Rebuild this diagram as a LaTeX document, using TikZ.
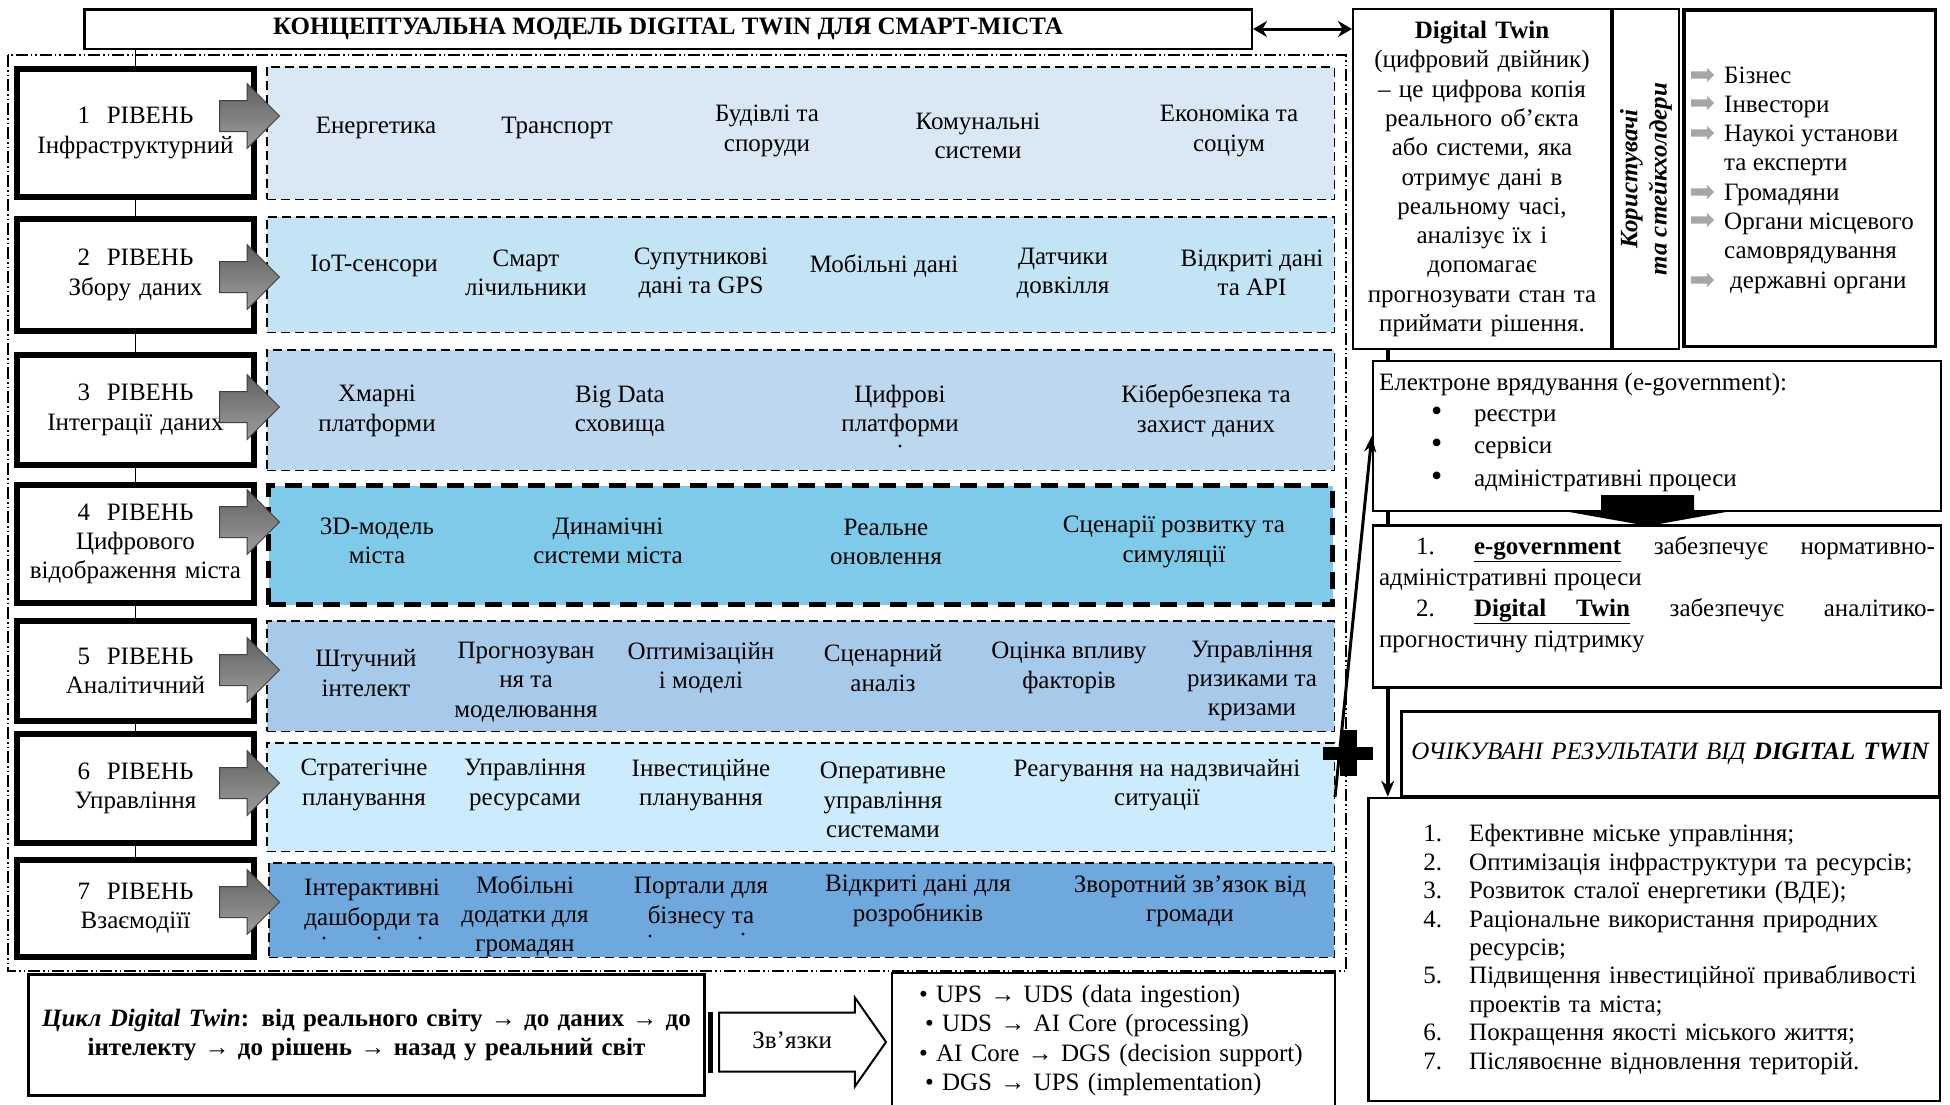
\documentclass[tikz,border=0pt]{standalone}
\usepackage{fontspec}
\setmainfont{Liberation Serif}
\usepackage{xcolor}
\usetikzlibrary{shapes.arrows,arrows.meta,positioning}
\definecolor{infra}{HTML}{DAE8F5}
\definecolor{collect}{HTML}{C3E4F4}
\definecolor{integr}{HTML}{BDD7EE}
\definecolor{mirror}{HTML}{7FC9E9}
\definecolor{analyt}{HTML}{A8CAEA}
\definecolor{manage}{HTML}{CCEBFC}
\definecolor{interact}{HTML}{6FA8DC}
\newcommand{\dtfont}{\fontsize{25}{29.3}\selectfont}
\newcommand{\numitem}[1]{\hspace*{49pt}\makebox[46pt][l]{#1}}
\newcommand{\bulitem}{\hspace*{52pt}\makebox[43pt][l]{\smash{\fontsize{32}{29}\selectfont•}}}

\begin{document}
\begin{tikzpicture}[
  x=1pt, y=-1pt,
  font=\dtfont,
  lvlbox/.style={draw, line width=6pt, fill=white, align=center, text width=229pt, inner xsep=4pt, inner ysep=2pt},
  rowbox/.style={draw, line width=1.5pt, dash pattern=on 9pt off 5pt, minimum width=1067.5pt},
  item/.style={align=center, inner sep=0pt},
  lvlarrow/.style={single arrow, draw=black!75, line width=1pt, top color=black!62, bottom color=black!38, minimum height=60pt, inner xsep=0pt, inner ysep=15pt, single arrow head extend=17pt, anchor=tail},
  stakearrow/.style={single arrow, fill=black!35, minimum height=23pt, inner xsep=0pt, inner ysep=3.5pt, single arrow head extend=3.5pt, anchor=tail},
  plainbox/.style={draw, line width=2.5pt, fill=white},
  lvlline/.style={line width=1pt},
  spine/.style={line width=4pt},
  frame/.style={line width=1.2pt, dash pattern=on 12pt off 3pt on 1.5pt off 3pt on 1.5pt off 3pt},
  linkarrow/.style={single arrow, draw, line width=2pt, fill=white, minimum height=167pt, text height=18pt, text depth=5pt, inner xsep=4pt, inner ysep=17pt, single arrow head extend=15pt, single arrow tip angle=110}
]
\fill[white] (0,0) rectangle (1950,1104);
\useasboundingbox (0,0) rectangle (1950,1104);

% header and frame
\node[plainbox, minimum width=1167.5pt, minimum height=39.5pt, font=\dtfont\bfseries] (title) at (668,29) {КОНЦЕПТУАЛЬНА МОДЕЛЬ DIGITAL TWIN ДЛЯ СМАРТ-МІСТА};
\draw[frame] (8,55) rectangle (1346,971);

% rows
\node[rowbox, fill=infra, minimum height=132.5pt] (c1) at (800.5,133) {};
\node[rowbox, fill=collect, minimum height=115.5pt] (c2) at (800.5,274.5) {};
\node[rowbox, fill=integr, minimum height=120.5pt] (c3) at (800.5,410) {};
\node[rowbox, fill=mirror, line width=5pt, dash pattern=on 17pt off 10pt, minimum width=1064pt, minimum height=119pt] (c4) at (800.5,545) {};
\node[rowbox, fill=analyt, minimum height=110.5pt] (c5) at (800.5,676) {};
\node[rowbox, fill=manage, minimum height=108.5pt] (c6) at (800.5,797) {};
\node[rowbox, fill=interact, minimum width=1065.5pt, minimum height=94.5pt] (c7) at (801.5,910) {};

\node[lvlbox, minimum height=128pt] (l1) at (135.5,133) {1\ \ РІВЕНЬ\\Інфраструктурний};
\node[lvlbox, minimum height=112pt] (l2) at (135.5,275) {2\ \ РІВЕНЬ\\Збору даних};
\node[lvlbox, minimum height=110pt] (l3) at (135.5,410) {3\ \ РІВЕНЬ\\Інтеграції даних};
\node[lvlbox, minimum height=118pt] (l4) at (135.5,544) {4\ \ РІВЕНЬ\\Цифрового\\відображення міста};
\node[lvlbox, minimum height=100pt] (l5) at (135.5,671) {5\ \ РІВЕНЬ\\Аналітичний};
\node[lvlbox, minimum height=109pt] (l6) at (135.5,788.5) {6\ \ РІВЕНЬ\\Управління};
\node[lvlbox, minimum height=97pt] (l7) at (135.5,908.5) {7\ \ РІВЕНЬ\\Взаємодіїї};

\draw[lvlline] (l1.north) -- (l1.north |- title.south);
\draw[lvlline] (l1.south) -- (l2.north);
\draw[lvlline] (l2.south) -- (l3.north);
\draw[lvlline] (l3.south) -- (l4.north);
\draw[lvlline] (l4.south) -- (l5.north);
\draw[lvlline] (l5.south) -- (l6.north);
\draw[lvlline] (l6.south) -- (l7.north);

\node[lvlarrow] (a1) at (219,116) {};
\node[lvlarrow] (a2) at (219,277) {};
\node[lvlarrow] (a3) at (219,407) {};
\node[lvlarrow] (a4) at (219,522) {};
\node[lvlarrow] (a5) at (219,670) {};
\node[lvlarrow] (a6) at (219,783) {};
\node[lvlarrow] (a7) at (219,902) {};

\node[item] (r1a) at (376,128) {Енергетика};
\node[item] (r1b) at (557,128) {Транспорт};
\node[item] (r1c) at (767,131) {Будівлі та\\споруди};
\node[item] (r1d) at (978,136) {Комунальні\\системи};
\node[item] (r1e) at (1229,131) {Економіка та\\соціум};

\node[item] (r2a) at (374,266) {IoT-сенсори};
\node[item] (r2b) at (526,273) {Смарт\\лічильники};
\node[item] (r2c) at (701,273) {Супутникові\\дані та GPS};
\node[item] (r2d) at (884,266) {Мобільні дані};
\node[item] (r2e) at (1063,273) {Датчики\\довкілля};
\node[item] (r2f) at (1252,273) {Відкриті дані\\та API};

\node[item] (r3a) at (377,411) {Хмарні\\платформи};
\node[item] (r3b) at (620,411) {Big Data\\сховища};
\node[item] (r3c) at (900,411) {Цифрові\\платформи};
\node[item] (r3d) at (1206,411) {Кібербезпека та\\захист даних};
\fill (900,446) circle (1.6pt);

\node[item] (r4a) at (377,541) {3D-модель\\міста};
\node[item] (r4b) at (608,541) {Динамічні\\системи міста};
\node[item] (r4c) at (886,542) {Реальне\\оновлення};
\node[item] (r4d) at (1174,542) {Сценарії розвитку та\\симуляції};

\node[item] (r5a) at (366,673) {Штучний\\інтелект};
\node[item] (r5b) at (526,682) {Прогнозуван\\ня та\\моделювання};
\node[item] (r5c) at (701,668) {Оптимізаційн\\і моделі};
\node[item] (r5d) at (883,668) {Сценарний\\аналіз};
\node[item] (r5e) at (1069,668) {Оцінка впливу\\факторів};
\node[item] (r5f) at (1252,681) {Управління\\ризиками та\\кризами};

\node[item] (r6a) at (364,785) {Стратегічне\\планування};
\node[item] (r6b) at (525,785) {Управління\\ресурсами};
\node[item] (r6c) at (701,785) {Інвестиційне\\планування};
\node[item] (r6d) at (883,800) {Оперативне\\управління\\системами};
\node[item] (r6e) at (1157,785) {Реагування на надзвичайні\\ситуації};

\node[item] (r7a) at (372,905) {Інтерактивні\\дашборди та};
\node[item] (r7b) at (525,916) {Мобільні\\додатки для\\громадян};
\node[item] (r7c) at (701,903) {Портали для\\бізнесу та};
\node[item] (r7d) at (918,901) {Відкриті дані для\\розробників};
\node[item] (r7e) at (1190,901) {Зворотний зв’язок від\\громади};
\fill (324,938) circle (1.6pt) (379,938) circle (1.6pt) (420,938) circle (1.6pt)
      (650,936) circle (1.6pt) (743,934) circle (1.6pt);

% digital twin and stakeholders
\node[plainbox, line width=2pt, text width=246pt, inner sep=6pt, minimum height=340pt, align=center] (dt) at (1482,179) {\textbf{Digital Twin}\\(цифровий двійник)\\– це цифрова копія\\реального об’єкта\\або системи, яка\\отримує дані в\\реальному часі,\\аналізує їх і\\допомагає\\прогнозувати стан та\\приймати рішення.};
\node[plainbox, line width=2pt, rotate=90, minimum width=340pt, minimum height=66pt, inner sep=2pt, align=center, font=\dtfont\bfseries\itshape] (users) at (1646,179) {Користувачі\\та стейкхолдери};
\node[plainbox, line width=3.5pt, minimum width=251.5pt, minimum height=336.5pt] (stake) at (1809.5,178) {};
\node[anchor=west, align=left, inner sep=0pt] (stakes) at (1724,180) {Бізнес\\Інвестори\\Наукоі установи\\та експерти\\Громадяни\\Органи місцевого\\самоврядування\\\hspace*{6pt}державні органи};
\node[stakearrow] (s1) at (1691,75) {};
\node[stakearrow] (s2) at (1691,103) {};
\node[stakearrow] (s3) at (1691,133) {};
\node[stakearrow] (s4) at (1691,192) {};
\node[stakearrow] (s5) at (1691,220) {};
\node[stakearrow] (s6) at (1691,280) {};

\draw[line width=3pt, {Stealth[length=14pt,width=16pt]}-{Stealth[length=14pt,width=16pt]}] (title.east) -- (title.east -| dt.west);

% e-government, roles, results
\node[plainbox, inner sep=6pt] (egov) at (1657,436) {\begin{minipage}[t][138pt][t]{556pt}\vspace*{6pt}
Електроне врядування (e-government):\\[2pt]\bulitem реєстри\\[3pt]\bulitem сервіси\\[3pt]\bulitem адміністративні процеси\end{minipage}};
\node[plainbox, inner sep=6pt] (roles) at (1657,606.5) {\begin{minipage}[t][150pt][t]{556pt}\fontsize{25}{31}\selectfont\vspace*{5pt}
\noindent\hspace*{37pt}\makebox[58pt][l]{1.}\underline{\textbf{e-government}}\hfill забезпечує\hfill нормативно-\\
адміністративні процеси\\
\hspace*{37pt}\makebox[58pt][l]{2.}\underline{\textbf{Digital\hspace{30pt}Twin}}\hfill забезпечує\hfill аналітико-\\
прогностичну підтримку\end{minipage}};
\node[plainbox, text width=530pt, inner xsep=4pt, minimum height=84.5pt, align=center] (restitle) at (1670.5,753.5) {\textit{ОЧІКУВАНІ РЕЗУЛЬТАТИ ВІД \textbf{DIGITAL TWIN}}};
\node[plainbox, text width=559.5pt, inner sep=6pt, minimum height=303pt, align=left, font=\fontsize{25}{28.4}\selectfont] (reslist) at (1654,949.5) {\numitem{1.}Ефективне міське управління;\\
\numitem{2.}Оптимізація інфраструктури та ресурсів;\\
\numitem{3.}Розвиток сталої енергетики (ВДЕ);\\
\numitem{4.}Раціональне використання природних\\
\hspace*{95pt}ресурсів;\\
\numitem{5.}Підвищення інвестиційної привабливості\\
\hspace*{95pt}проектів та міста;\\
\numitem{6.}Покращення якості міського життя;\\
\numitem{7.}Післявоєнне відновлення територій.};

\coordinate (sp) at ([xshift=16pt]egov.west);
\draw[spine] (sp |- dt.south) -- (sp |- egov.north);
\draw[spine] (sp |- egov.south) -- (sp |- roles.north);
\draw[spine, -{Stealth[length=16pt,width=13pt]}] (sp |- roles.south) -- (sp |- reslist.north);
\fill (1601,495) -- (1694,495) -- (1694,510) -- (1737,510) -- (1648,526) -- (1558,510) -- (1601,510) -- cycle;

\coordinate (plus) at (1348,753);
\coordinate (plusfoot) at (1335,797);
\fill (1340,730) rectangle (1357,776);
\fill (1323,747) rectangle (1373,760);
\draw[line width=3pt, -{Stealth[length=16pt,width=12pt]}] (plusfoot) -- (egov.west);

% cycle and links
\node[plainbox, line width=3pt, text width=667pt, inner sep=4.5pt, minimum height=121pt, align=center, font=\dtfont\bfseries] (cycle) at (366.5,1035) {\textit{Цикл Digital Twin}: від реального світу → до даних → до\\інтелекту → до рішень → назад у реальний світ};
\node[linkarrow, right=12pt of cycle, anchor=tail, yshift=-7pt] (zv) {Зв’язки};
\draw[line width=5pt] ([xshift=-8pt]zv.before tail) -- ([xshift=-8pt]zv.after tail);
\node[plainbox, line width=2pt, text width=431pt, inner sep=6pt, minimum height=135pt, align=left] (links) at (1113.5,1040.5) {\hspace*{21pt}• UPS → UDS (data ingestion)\\
\hspace*{27pt}• UDS → AI Core (processing)\\
\hspace*{21pt}• AI Core → DGS (decision support)\\
\hspace*{27pt}• DGS → UPS (implementation)};
\end{tikzpicture}
\end{document}
